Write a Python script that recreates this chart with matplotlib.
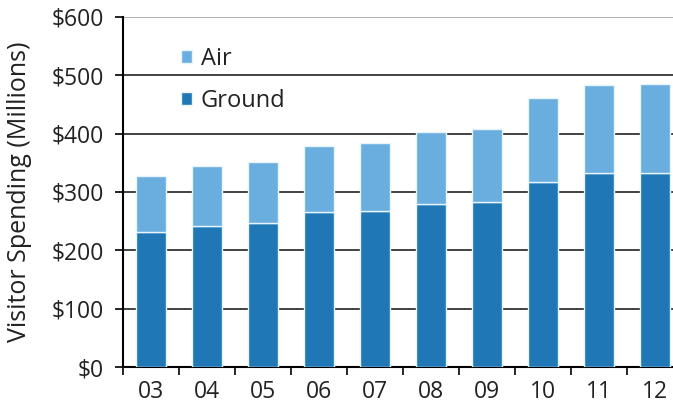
import matplotlib.pyplot as plt
import numpy as np
from matplotlib.patches import Patch

# Données
years = ['03', '04', '05', '06', '07', '08', '09', '10', '11', '12']
ground = [231, 242, 247, 266, 267, 279, 283, 317, 332, 332]
air = [96, 103, 104, 113, 117, 124, 125, 144, 151, 153]
y_ticks = [0, 100, 200, 300, 400, 500, 600]
y_labels = ['$0', '$100', '$200', '$300', '$400', '$500', '$600']

plt.rcParams['font.family'] = ['Open Sans', 'DejaVu Sans']

color_ground = '#1f77b6'
color_air = '#6aaee0'
txt = '#222222'

fig = plt.figure(figsize=(6.73, 4.15), dpi=100)
ax = fig.add_axes([123 / 673, 48 / 415, 560 / 673, 350 / 415])

x = np.arange(len(years))
ax.bar(x, ground, width=0.52, color=color_ground, edgecolor='#e8f4fc', linewidth=1, zorder=3)
ax.bar(x, air, width=0.52, bottom=ground, color=color_air, edgecolor='#e8f4fc', linewidth=1, zorder=3)

# grille horizontale
for v in y_ticks[1:]:
    ax.axhline(v, color='#aaaaaa' if v == 600 else '#333333', linewidth=1.3, zorder=1)

ax.set_ylim(0, 600)
ax.set_xlim(-0.5, len(years) - 0.5)
ax.set_yticks(y_ticks)
ax.set_yticklabels(y_labels, fontsize=16.5, color=txt)
ax.set_xticks(x)
ax.set_xticklabels(years, fontsize=16.5, color=txt)
ax.tick_params(axis='x', which='major', length=0, pad=9)
ax.set_xticks(np.arange(len(years) + 1) - 0.5, minor=True)
ax.tick_params(axis='x', which='minor', length=6, width=1.2, direction='out')
ax.tick_params(axis='y', length=6, width=1.2, direction='out', pad=8)

ax.set_ylabel('Visitor Spending (Millions)', fontsize=18, color=txt)
ax.yaxis.set_label_coords(-0.162, 0.5)

ax.spines['top'].set_visible(False)
ax.spines['right'].set_visible(False)
ax.spines['left'].set_linewidth(1.5)
ax.spines['bottom'].set_linewidth(1.5)

handles = [Patch(facecolor=color_air, edgecolor='#e8f4fc', label='Air'),
           Patch(facecolor=color_ground, edgecolor='#e8f4fc', label='Ground')]
ax.legend(handles=handles, loc='upper left', bbox_to_anchor=(0.065, 0.975), frameon=False,
          fontsize=17, handlelength=0.5, handleheight=0.5, handletextpad=0.35,
          labelspacing=0.75, labelcolor=txt)

fig.savefig('out.png', dpi=100)
